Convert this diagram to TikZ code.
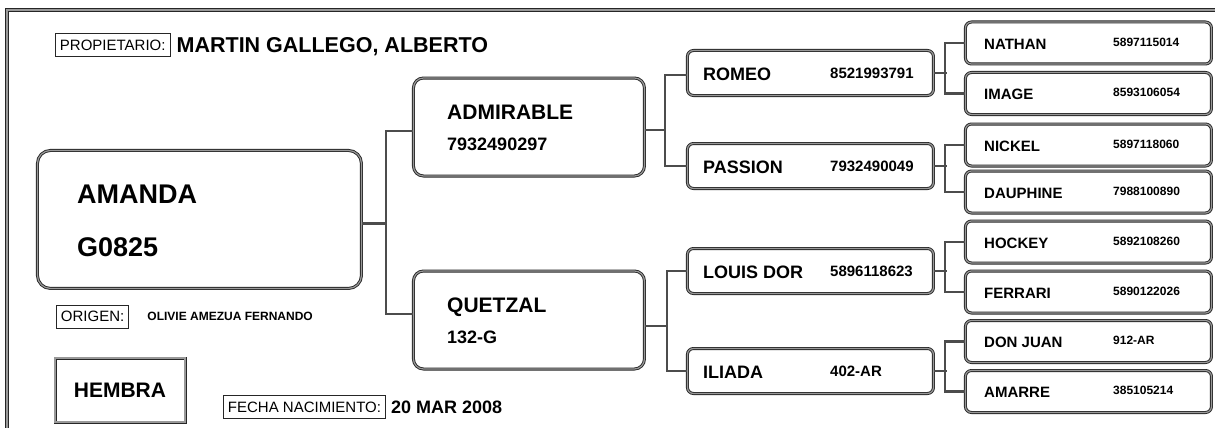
\documentclass[tikz,border=0pt]{standalone}
\usepackage{fontspec}
\setmainfont{Liberation Sans}
\usetikzlibrary{positioning, calc}
\newcommand{\fsz}[1]{\fontsize{#1}{#1}\selectfont}
\tikzset{
  pbox/.style={draw=black!85, double=black!40, double distance=1.2pt, line width=0.9pt, rounded corners=#1, inner sep=0pt},
  pbox/.default=6pt,
  link/.style={draw=black!70, line width=2.4pt},
  lbl/.style={draw=black!85, line width=0.9pt, inner xsep=4.5pt, inner ysep=0pt, minimum height=23pt, font=\fsz{15}},
  txt/.style={inner sep=0pt, text depth=0pt, anchor=west},
}

\begin{document}
\begin{tikzpicture}[x=1pt, y=-1pt]
  \useasboundingbox (0,0) rectangle (1215,428);
  \clip (0,0) rectangle (1215,428);
  % outer frame, cut by the page edge
  \draw[draw=black!85, double=black!40, double distance=1.4pt, line width=0.9pt] (7,10) rectangle (1240,450);

  % owner
  \node[lbl, anchor=west] (owner) at (55,45) {PROPIETARIO:};
  \node[txt, right=6pt of owner, font=\fsz{21.5}\bfseries] (ownername) {MARTIN GALLEGO, ALBERTO};

  % the mare herself
  \node[pbox=13pt, minimum width=324pt, minimum height=138pt, anchor=north west] (horse) at (37,150) {};
  \node[txt, font=\fsz{27}\bfseries] (horsename) at (77,194) {AMANDA};
  \node[txt, font=\fsz{27}\bfseries] (horseid) at (77,247) {G0825};

  \node[lbl, anchor=west] (origin) at (56,316.5) {ORIGEN:};
  \node[txt, right=18pt of origin, font=\fsz{12}\bfseries] (breeder) {OLIVIE AMEZUA FERNANDO};
  \node[pbox=0pt, minimum width=130pt, minimum height=64pt, font=\fsz{21}\bfseries] (sex) at (120,390) {HEMBRA};
  \node[lbl, anchor=west] (birth) at (223,407) {FECHA NACIMIENTO:};
  \node[txt, right=5pt of birth, font=\fsz{18}\bfseries] (birthdate) {20 MAR 2008};

  % parents
  \foreach \nm/\nn/\id/\c in {sire/ADMIRABLE/7932490297/127, dam/QUETZAL/132-G/320}{
    \node[pbox=10pt, minimum width=231pt, minimum height=98pt, anchor=west] (\nm) at (413,\c) {};
    \node[txt, font=\fsz{21}\bfseries] at ($(\nm.west)+(34,-14.5)$) {\nn};
    \node[txt, font=\fsz{18}\bfseries] at ($(\nm.west)+(34,17.5)$) {\id};
  }

  % grandparents
  \foreach \nn/\id/\c [count=\i] in {ROMEO/8521993791/73, PASSION/7932490049/166, LOUIS DOR/5896118623/271, ILIADA/402-AR/371}{
    \node[pbox, minimum width=246pt, minimum height=45pt, anchor=west] (gp\i) at (687,\c) {};
    \node[txt, font=\fsz{18}\bfseries] at ($(gp\i.west)+(16,1)$) {\nn};
    \node[txt, font=\fsz{15}\bfseries] at ($(gp\i.west)+(143,0)$) {\id};
  }

  % great-grandparents
  \foreach \nn/\id/\c [count=\i] in {NATHAN/5897115014/43, IMAGE/8593106054/93.5, NICKEL/5897118060/145, DAUPHINE/7988100890/192, HOCKEY/5892108260/242, FERRARI/5890122026/292, DON JUAN/912-AR/341.5, AMARRE/385105214/391.5}{
    \node[pbox, minimum width=246pt, minimum height=42pt, anchor=west] (gg\i) at (965,\c) {};
    \node[txt, font=\fsz{15}\bfseries] at ($(gg\i.west)+(19,1)$) {\nn};
    \node[txt, font=\fsz{12}\bfseries] at ($(gg\i.west)+(148,-1)$) {\id};
  }

  % connectors
  \draw[link] ([yshift=-4pt]horse.east) -- ++(25,0);
  \draw[link] ([yshift=-4pt]sire.west) -- ++(-27,0) |- ([yshift=6pt]dam.west);
  \draw[link] ([yshift=-3pt]sire.east) -- ++(21,0);
  \draw[link] ([yshift=-6pt]dam.east) -- ++(23,0);
  \draw[link] ([yshift=-2pt]gp1.west) -- ++(-22,0) |- (gp2.west);
  \draw[link] (gp3.west) -- ++(-20,0) |- (gp4.west);
  \foreach \i/\a/\b in {1/1/2, 2/3/4, 3/5/6, 4/7/8}{
    \draw[link] (gp\i.east) -- ++(13,0);
    \draw[link] (gg\a.west) -- ++(-20,0) |- (gg\b.west);
  }
\end{tikzpicture}
\end{document}
